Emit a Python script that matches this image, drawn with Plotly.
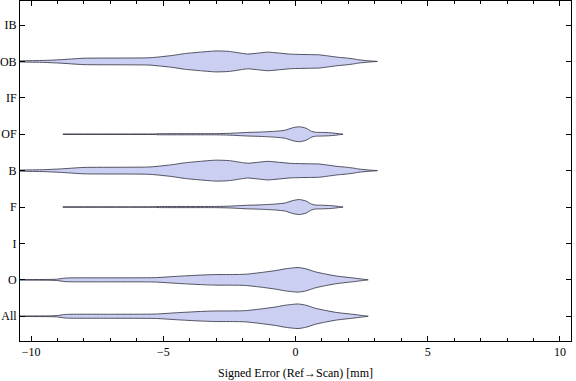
import plotly.graph_objects as go

# Category labels (bottom to top) and their positions
categories = ["All", "O", "I", "F", "B", "OF", "IF", "OB", "IB"]

# Density profiles: x position (mm) and half-width (px at 36.46 px / category)
ob_x = [-11.1, -10.4, -9.5, -8.9, -8.0, -6.5, -5.5, -4.65, -4.2, -3.65, -3.0, -2.5, -2.0, -1.8,
        -1.4, -1.05, -0.6, -0.2, 0.2, 0.6, 0.9, 1.2, 1.6, 1.9, 2.2, 2.4, 2.7, 3.1]
ob_w = [0.3, 0.6, 1.0, 1.7, 3.2, 3.4, 3.7, 6.0, 7.8, 9.2, 10.5, 10.0, 8.0, 7.4,
        8.4, 9.3, 8.3, 7.3, 7.0, 6.8, 6.6, 5.6, 4.2, 3.5, 2.5, 1.6, 0.8, 0.0]

of_x = [-8.8, -5.3, -5.2, -3.0, -2.5, -1.8, -1.3, -0.75, -0.4, -0.1, 0.15, 0.4, 0.6, 0.75,
        1.0, 1.3, 1.5, 1.8]
of_w = [0.25, 0.3, 0.5, 0.6, 0.9, 1.8, 2.2, 3.0, 4.0, 6.5, 7.5, 6.0, 3.0, 2.0,
        1.8, 1.5, 1.0, 0.0]

o_x = [-11.1, -9.05, -8.7, -7.0, -5.3, -4.5, -3.65, -3.0, -2.5, -1.9, -1.25, -0.7, -0.4, 0.1,
       0.4, 0.75, 1.1, 1.5, 1.8, 2.15, 2.45, 2.75]
o_w = [0.3, 0.6, 1.8, 2.0, 2.2, 3.5, 4.7, 5.3, 5.3, 5.6, 7.5, 9.5, 11.0, 12.3,
       11.0, 8.0, 6.0, 4.0, 3.0, 2.0, 1.0, 0.0]

# Which profile is drawn on which category (empty categories have none)
series = {
    "All": (o_x, o_w),
    "O": (o_x, o_w),
    "F": (of_x, of_w),
    "B": (ob_x, ob_w),
    "OF": (of_x, of_w),
    "OB": (ob_x, ob_w),
}

x_title = "Signed Error (Ref\u2192Scan) [mm]"

PX_PER_CAT = 36.46
FILL = "#cbd0f2"
EDGE = "rgba(55,55,70,0.85)"
FONT = "Liberation Serif, Times New Roman, serif"

fig = go.Figure()
for name, (xs, ws) in series.items():
    c = categories.index(name) + 1
    hw = [w / PX_PER_CAT for w in ws]
    top = [c + h for h in hw]
    bot = [c - h for h in hw]
    fig.add_trace(go.Scatter(
        x=xs + xs[::-1],
        y=top + bot[::-1],
        mode="lines",
        fill="toself",
        fillcolor=FILL,
        line=dict(color=EDGE, width=1, shape="spline", smoothing=0.6),
        hoverinfo="skip",
        showlegend=False,
    ))

fig.update_layout(
    width=576, height=381,
    margin=dict(l=20, r=5, t=1, b=40, autoexpand=False),
    paper_bgcolor="white", plot_bgcolor="white",
    font=dict(family=FONT, size=12, color="black"),
    showlegend=False,
)
fig.add_annotation(
    text=x_title, xref="paper", yref="paper", x=0.5, y=-0.094,
    xanchor="center", yanchor="middle", showarrow=False,
    font=dict(family=FONT, size=12, color="black"),
)
fig.update_xaxes(
    range=[-10.42, 10.42],
    tickvals=[-10, -5, 0, 5, 10],
    ticks="inside", ticklen=5, tickcolor="black", tickwidth=1,
    minor=dict(dtick=1, ticks="inside", ticklen=3, tickcolor="black", tickwidth=1),
    showline=True, linecolor="black", linewidth=1, mirror="ticks",
    showgrid=False, zeroline=False, automargin=False,
    tickfont=dict(family=FONT, size=12),
)
fig.update_yaxes(
    range=[0.32, 9.66],
    tickvals=list(range(1, len(categories) + 1)),
    ticktext=categories,
    ticks="inside", ticklen=5, tickcolor="black", tickwidth=1,
    showline=True, linecolor="black", linewidth=1, mirror="ticks",
    showgrid=False, zeroline=False, automargin=False,
    tickfont=dict(family=FONT, size=12),
)

fig.write_html(
    "out.html",
    config={"displayModeBar": False},
    post_script="document.body.style.margin='0';document.body.style.padding='0';",
)
